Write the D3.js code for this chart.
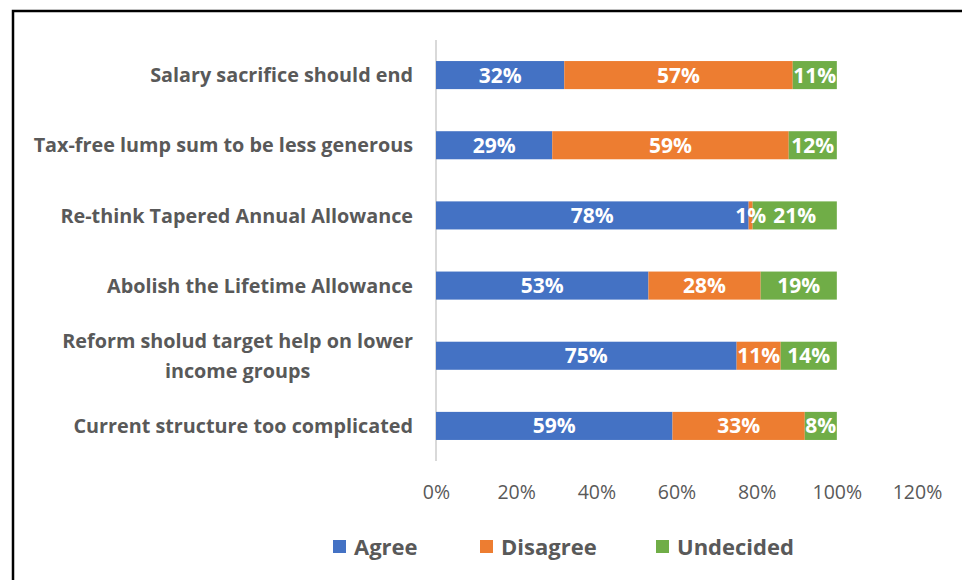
<!DOCTYPE html>
<html>
<head>
<meta charset="utf-8">
<script src="https://cdn.jsdelivr.net/npm/d3@7"></script>
<style>
  html, body { margin: 0; padding: 0; background: #fff; }
  svg { display: block; }
</style>
</head>
<body>
<svg id="chart" width="962" height="580"></svg>
<script>
// Survey statements and response shares (percent)
const categories = [
  "Salary sacrifice should end",
  "Tax-free lump sum to be less generous",
  "Re-think Tapered Annual Allowance",
  "Abolish the Lifetime Allowance",
  "Reform sholud target help on lower income groups",
  "Current structure too complicated"
];
const agree     = [32, 29, 78, 53, 75, 59];
const disagree  = [57, 59, 1, 28, 11, 33];
const undecided = [11, 12, 21, 19, 14, 8];
const seriesNames = ["Agree", "Disagree", "Undecided"];
const seriesColors = ["#4472c4", "#ed7d31", "#70ad47"];
const tickValues = [0, 20, 40, 60, 80, 100, 120];

const font = "'Open Sans', Lato, sans-serif";
const svg = d3.select("#chart");

// outer frame of the chart
svg.append("rect")
  .attr("x", 13).attr("y", 11)
  .attr("width", 980).attr("height", 600)
  .attr("fill", "none").attr("stroke", "#000").attr("stroke-width", 2.5);

const x = d3.scaleLinear().domain([0, 120]).range([436, 917]);
const y = d3.scaleBand().domain(categories).range([40, 461]).paddingInner(0.6).paddingOuter(0.3);

const rows = categories.map((c, i) => ({ cat: c, Agree: agree[i], Disagree: disagree[i], Undecided: undecided[i] }));
const stacked = d3.stack().keys(seriesNames)(rows);

// category axis line
svg.append("line")
  .attr("x1", x(0)).attr("x2", x(0))
  .attr("y1", 40).attr("y2", 461)
  .attr("stroke", "#d9d9d9").attr("stroke-width", 2);

const layers = svg.selectAll("g.layer").data(stacked).join("g")
  .attr("class", "layer")
  .attr("fill", (d, i) => seriesColors[i]);

layers.selectAll("rect").data(d => d).join("rect")
  .attr("x", d => x(d[0]))
  .attr("y", d => y(d.data.cat))
  .attr("width", d => x(d[1]) - x(d[0]))
  .attr("height", y.bandwidth());

// value labels inside the segments, drawn above every bar
const labelData = stacked.flatMap(s => s.map(v => ({ v, key: s.key })));
svg.append("g").selectAll("text").data(labelData).join("text")
  .attr("x", d => (x(d.v[0]) + x(d.v[1])) / 2)
  .attr("y", d => y(d.v.data.cat) + y.bandwidth() / 2)
  .attr("dy", "0.36em")
  .attr("text-anchor", "middle")
  .attr("fill", "#fff")
  .attr("font-family", font)
  .attr("font-weight", "bold")
  .attr("font-size", 21)
  .text(d => (d.v[1] - d.v[0]) + "%");

// category labels
const wrapLines = { "Reform sholud target help on lower income groups": ["Reform sholud target help on lower", "income groups"] };
categories.forEach(c => {
  const lines = wrapLines[c] || [c];
  const cy = y(c) + y.bandwidth() / 2;
  const t = svg.append("text")
    .attr("fill", "#595959")
    .attr("font-family", font)
    .attr("font-weight", "bold")
    .attr("font-size", 19.8);
  if (lines.length === 1) {
    t.attr("x", 413).attr("y", cy).attr("dy", "0.36em").attr("text-anchor", "end").text(c);
  } else {
    // two-line label: right-aligned block, lines centred within it
    const tmp = t.append("tspan").text(lines[0]);
    const w = tmp.node().getComputedTextLength();
    tmp.remove();
    const mid = 413 - w / 2;
    lines.forEach((l, k) => {
      t.append("tspan")
        .attr("x", mid).attr("text-anchor", "middle")
        .attr("y", cy + (k - (lines.length - 1) / 2) * 30)
        .attr("dy", "0.36em")
        .text(l);
    });
  }
});

// value axis tick labels
const xAxis = svg.append("g")
  .attr("transform", "translate(0,492)")
  .call(d3.axisBottom(x).tickValues(tickValues).tickSize(0).tickFormat(d => d + "%"));
xAxis.select(".domain").remove();
xAxis.selectAll("text")
  .attr("y", 0).attr("dy", "0.36em")
  .attr("fill", "#595959")
  .attr("font-family", font)
  .attr("font-size", 19.5);

// legend
const legendX = [333, 480, 656];
const legend = svg.selectAll("g.legend").data(seriesNames).join("g")
  .attr("class", "legend")
  .attr("transform", (d, i) => `translate(${legendX[i]},547)`);
legend.append("rect")
  .attr("x", 0).attr("y", -7).attr("width", 13).attr("height", 13)
  .attr("fill", (d, i) => seriesColors[i]);
legend.append("text")
  .attr("x", 21).attr("y", 0).attr("dy", "0.36em")
  .attr("fill", "#595959")
  .attr("font-family", font)
  .attr("font-weight", "bold")
  .attr("font-size", 22)
  .text(d => d);
</script>
</body>
</html>
